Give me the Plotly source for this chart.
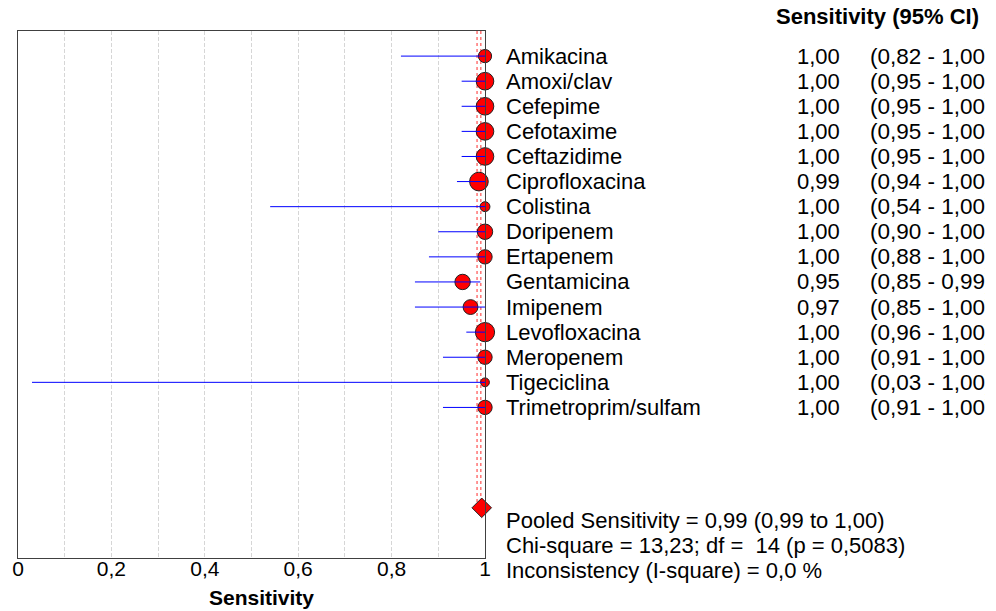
import plotly.graph_objects as go

# ---- data ----
studies = ["Amikacina", "Amoxi/clav", "Cefepime", "Cefotaxime", "Ceftazidime",
           "Ciprofloxacina", "Colistina", "Doripenem", "Ertapenem", "Gentamicina",
           "Imipenem", "Levofloxacina", "Meropenem", "Tigeciclina", "Trimetroprim/sulfam"]
sens = [1.00, 1.00, 1.00, 1.00, 1.00, 0.987, 1.00, 1.00, 1.00, 0.952, 0.969, 1.00, 1.00, 1.00, 1.00]
ci_low = [0.82, 0.95, 0.95, 0.95, 0.95, 0.94, 0.54, 0.90, 0.88, 0.85, 0.85, 0.96, 0.91, 0.03, 0.91]
ci_high = [1.00, 1.00, 1.00, 1.00, 1.00, 1.00, 1.00, 1.00, 1.00, 0.99, 1.00, 1.00, 1.00, 1.00, 1.00]
weights = [1.44, 2.56, 2.56, 2.56, 2.56, 2.89, 0.81, 1.96, 1.69, 1.96, 1.82, 3.06, 1.69, 0.64, 1.69]
pooled_est = 0.993
pooled_ref_lines = [0.983, 0.991]
tick_vals = [0, 0.2, 0.4, 0.6, 0.8, 1]
stats_lines = ["Pooled Sensitivity = 0,99 (0,99 to 1,00)",
               "Chi-square = 13,23; df =  14 (p = 0,5083)",
               "Inconsistency (I-square) = 0,0 %"]
header = "Sensitivity (95% CI)"
x_title = "Sensitivity"

FONT = "Liberation Sans, Arial, sans-serif"
rows = list(range(len(studies)))
pooled_row = len(studies) + 3
y_top, y_bottom = -1, pooled_row + 2

# page offset (body margin) compensation: figure pixel = reference pixel - OFF
OFF = 8
PL, PR, PT, PB = 18 - OFF, 485 - OFF, 31 - OFF, 558 - OFF
FIG_W, FIG_H = 985 - OFF, 611
PW, PH = PR - PL, PB - PT


def px_x(ref_px):
    return (ref_px - OFF - PL) / PW


def px_y(ref_px):
    return (PB - (ref_px - OFF)) / PH


def row_to_paper(r):
    return (y_bottom - r) / (y_bottom - y_top)


def fmt(v):
    return f"{v:.2f}".replace(".", ",")


fig = go.Figure()

# red dotted reference lines (pooled estimate)
rx, ry = [], []
for v in pooled_ref_lines:
    rx += [v, v, None]
    ry += [y_top, pooled_row, None]
fig.add_trace(go.Scatter(x=rx, y=ry, mode="lines",
                         line=dict(color="rgba(255,0,0,0.55)", width=1.5, dash="dot"),
                         hoverinfo="skip"))

# study markers
fig.add_trace(go.Scatter(x=sens, y=rows, mode="markers", cliponaxis=False,
                         marker=dict(symbol="circle", color="#ff0000", opacity=1,
                                     size=[11 * w ** 0.5 for w in weights],
                                     line=dict(color="#202020", width=1))))

# CI lines on top
lx, ly = [], []
for lo, hi, r in zip(ci_low, ci_high, rows):
    lx += [lo, hi, None]
    ly += [r, r, None]
fig.add_trace(go.Scatter(x=lx, y=ly, mode="lines",
                         line=dict(color="#0000ff", width=1), hoverinfo="skip"))

# pooled diamond
fig.add_trace(go.Scatter(x=[pooled_est], y=[pooled_row], mode="markers", cliponaxis=False,
                         marker=dict(symbol="diamond", size=15, color="#ff0000", opacity=1,
                                     line=dict(color="#202020", width=1))))

# invisible trace carrying the tick-label axis
fig.add_trace(go.Scatter(x=[tick_vals[0]], y=[y_top], xaxis="x2", mode="markers",
                         marker=dict(opacity=0), hoverinfo="skip"))

ann = []
for r, name, s, lo, hi in zip(rows, studies, sens, ci_low, ci_high):
    ann.append(dict(x=px_x(504), xref="paper", y=r, yref="y", text=name,
                    xanchor="left", yanchor="middle", showarrow=False,
                    font=dict(family=FONT, size=22, color="black")))
    ann.append(dict(x=px_x(842), xref="paper", y=r, yref="y", text=fmt(s),
                    xanchor="right", yanchor="middle", showarrow=False,
                    font=dict(family=FONT, size=22, color="black")))
    ann.append(dict(x=px_x(868), xref="paper", y=r, yref="y",
                    text=f"({fmt(lo)} - {fmt(hi)})",
                    xanchor="left", yanchor="middle", showarrow=False,
                    font=dict(family=FONT, size=22.5, color="black")))

ann.append(dict(x=px_x(877), xref="paper", y=px_y(17), yref="paper",
                text=f"<b>{header}</b>", xanchor="center", yanchor="middle",
                showarrow=False, font=dict(family=FONT, size=22, color="black")))

for k, t in enumerate(stats_lines):
    ann.append(dict(x=px_x(504), xref="paper", y=row_to_paper(pooled_row + 0.5 + k),
                    yref="paper", text=t, xanchor="left", yanchor="middle",
                    showarrow=False, font=dict(family=FONT, size=22, color="black")))

ann.append(dict(x=px_x(262), xref="paper", y=px_y(597), yref="paper",
                text=f"<b>{x_title}</b>", xanchor="center", yanchor="middle",
                showarrow=False, font=dict(family=FONT, size=21, color="black")))

fig.update_layout(
    width=FIG_W, height=FIG_H,
    margin=dict(l=PL, r=FIG_W - PR, t=PT, b=FIG_H - PB, pad=0, autoexpand=False),
    paper_bgcolor="white", plot_bgcolor="white",
    showlegend=False, separators=", ",
    annotations=ann,
    xaxis=dict(range=[0, 1], tickvals=tick_vals, showgrid=True, gridcolor="#d6d6d6",
               griddash="4px,2px", gridwidth=1, automargin=False,
               minor=dict(dtick=0.1, showgrid=True, gridcolor="#d6d6d6", griddash="4px,2px"),
               showline=True, mirror=True, linecolor="#404040", linewidth=1,
               ticks="", zeroline=False, showticklabels=False),
    xaxis2=dict(range=[0, 1], tickvals=tick_vals, overlaying="x", anchor="free",
                position=4 / PH, side="bottom", showgrid=False, showline=False,
                zeroline=False, ticks="", automargin=False,
                tickfont=dict(family=FONT, size=21, color="black")),
    yaxis=dict(range=[y_bottom, y_top], showgrid=False, zeroline=False, automargin=False,
               showticklabels=False, ticks="", showline=True, mirror=True,
               linecolor="#404040", linewidth=1),
)

fig.write_html("out.html")
